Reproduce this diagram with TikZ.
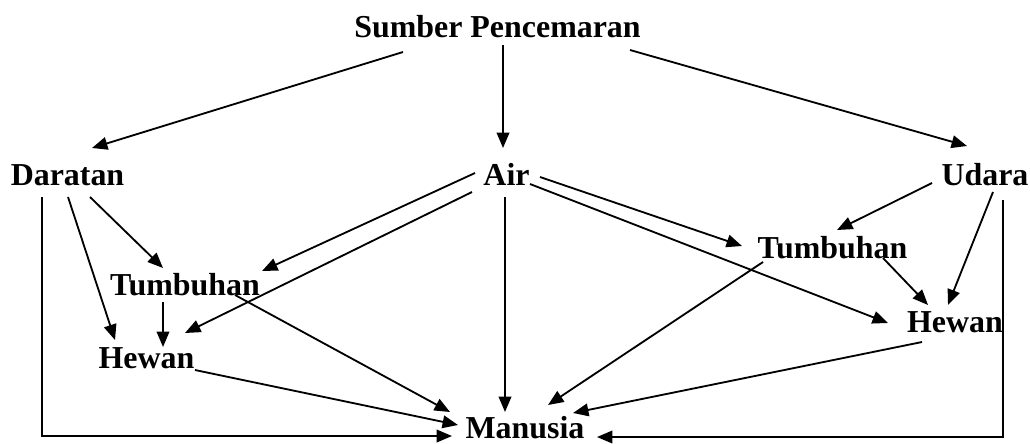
\documentclass[tikz,border=0pt]{standalone}
\usepackage{fontspec}
\setmainfont{Liberation Serif}
\usepackage{tikz}
\usetikzlibrary{arrows.meta, calc}

\begin{document}
\begin{tikzpicture}[x=0.025cm, y=-0.025cm,
  lbl/.style={font=\fontsize{22.7pt}{27pt}\selectfont\bfseries, inner sep=0pt, anchor=base},
  arr/.style={line width=1.3pt, -{Triangle[length=11pt, width=9pt]}}]
\useasboundingbox (0,0) rectangle (1030,443);

% Source and the three media
\node[lbl] (sp)  at (497.5, 37) {Sumber Pencemaran};
\node[lbl] (dar) at (67.5, 185) {Daratan};
\node[lbl] (air) at (506.5, 185) {Air};
\node[lbl] (uda) at (985, 185) {Udara};

% Plants and animals
\node[lbl] (tl) at (185, 295) {Tumbuhan};
\node[lbl] (hl) at (146.5, 368) {Hewan};
\node[lbl] (tr) at (832.5, 258) {Tumbuhan};
\node[lbl] (hr) at (955, 332) {Hewan};

% Humans
\node[lbl] (man) at (525, 438) {Manusia};

% Source -> media
\draw[arr] ($(sp.base)+(-94.5,15)$) -- ($(dar.base)+(24.5,-37)$);
\draw[arr] ($(sp.base)+(5.5,8)$) -- ($(air.base)+(-3.5,-37)$);
\draw[arr] ($(sp.base)+(132.5,13)$) -- ($(uda.base)+(-18,-39)$);

% Daratan
\draw[arr] ($(dar.base)+(-25.5,12)$) |- ($(man.base)+(-73,-2)$);
\draw[arr] ($(dar.base)+(0.5,12)$) -- ($(hl.base)+(-31.5,-28)$);
\draw[arr] ($(dar.base)+(22.5,12)$) -- ($(tl.base)+(-22,-27)$);
\draw[arr] ($(tl.base)+(-22,7)$) -- ($(hl.base)+(16.5,-21)$);
\draw[arr] ($(tl.base)+(50,0)$) -- ($(man.base)+(-75,-26)$);
\draw[arr] ($(hl.base)+(48.5,2)$) -- ($(man.base)+(-67,-13)$);

% Air
\draw[arr] ($(air.base)+(-31.5,-12)$) -- ($(tl.base)+(77,-24)$);
\draw[arr] ($(air.base)+(-34.5,7)$) -- ($(hl.base)+(38.5,-35)$);
\draw[arr] ($(air.base)+(-1.5,12)$) -- ($(man.base)+(-20,-26)$);
\draw[arr] ($(air.base)+(33.5,-8)$) -- ($(tr.base)+(-90.5,-12)$);
\draw[arr] ($(air.base)+(23.5,-1)$) -- ($(hr.base)+(-67,-9)$);

% Udara
\draw[arr] ($(uda.base)+(-53,-2)$) -- ($(tr.base)+(4.5,-28)$);
\draw[arr] ($(uda.base)+(8,7)$) -- ($(hr.base)+(-7,-27)$);
\draw[arr] ($(uda.base)+(18,15)$) |- ($(man.base)+(72,-1)$);
\draw[arr] ($(tr.base)+(50.5,0)$) -- ($(hr.base)+(-27,-27)$);
\draw[arr] ($(tr.base)+(-69.5,4)$) -- ($(man.base)+(23,-33)$);
\draw[arr] ($(hr.base)+(-33,10)$) -- ($(man.base)+(48,-25)$);
\end{tikzpicture}
\end{document}
